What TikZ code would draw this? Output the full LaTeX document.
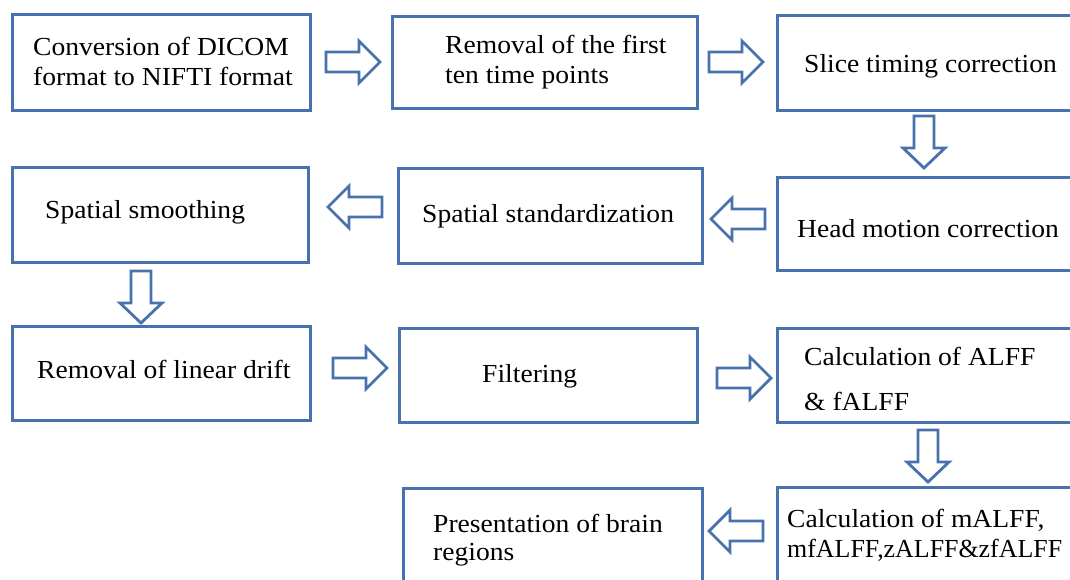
\documentclass[tikz,border=0pt]{standalone}
\usepackage{fontspec}
\setmainfont{Liberation Serif}[FakeStretch=1.06]
\usetikzlibrary{fit}
\definecolor{boxblue}{RGB}{72,114,174}
\begin{document}
\begin{tikzpicture}[x=1pt,y=-1pt,
  box/.style={draw=boxblue,line width=3pt,inner sep=0pt,outer sep=0pt,rectangle},
  lbl/.style={anchor=base west,inner sep=0pt,font=\fontsize{26}{30}\selectfont,text=black},
  arr/.style={draw=boxblue,line width=2.8pt,fill=white,line join=miter},
  rarr/.pic={\path[arr] (-27,-10) -- (6,-10) -- (6,-21) -- (27,0) -- (6,21) -- (6,10) -- (-27,10) -- cycle;},
  larr/.pic={\path[arr] (27,-10) -- (-6,-10) -- (-6,-21) -- (-27,0) -- (-6,21) -- (-6,10) -- (27,10) -- cycle;},
  darr/.pic={\path[arr] (-10,-26) -- (-10,6) -- (-21,6) -- (0,26) -- (21,6) -- (10,6) -- (10,-26) -- cycle;}
]
\useasboundingbox (0,0) rectangle (1070,579);
\clip (0,0) rectangle (1070,579);
\fill[white] (0,0) rectangle (1070,579);

% boxes
\node[box,fit={(12,14) (310,110)}] (b1) {};
\node[box,fit={(392,16) (697,108)}] (b2) {};
\node[box,fit={(777,15) (1100,110)}] (b3) {};
\node[box,fit={(12,167) (308,262)}] (b4) {};
\node[box,fit={(398,168) (702,263)}] (b5) {};
\node[box,fit={(777,177) (1100,270)}] (b6) {};
\node[box,fit={(12,326) (310,420)}] (b7) {};
\node[box,fit={(399,328) (697,422)}] (b8) {};
\node[box,fit={(777,328) (1100,422)}] (b9) {};
\node[box,fit={(403,488) (702,640)}] (b10) {};
\node[box,fit={(777,487) (1100,640)}] (b11) {};

% texts
\node[lbl] (t1a) at (33,55) {Conversion of DICOM};
\node[lbl] (t1b) at (33,85) {format to NIFTI format};
\node[lbl] (t2a) at (445,53) {Removal of the first};
\node[lbl] (t2b) at (445,83) {ten time points};
\node[lbl] (t3) at (804,72) {Slice timing correction};
\node[lbl] (t4) at (45,218) {Spatial smoothing};
\node[lbl] (t5) at (422,222) {Spatial standardization};
\node[lbl] (t6) at (797,237) {Head motion correction};
\node[lbl] (t7) at (37,378) {Removal of linear drift};
\node[lbl] (t8) at (482,382) {Filtering};
\node[lbl] (t9a) at (804,365) {Calculation of ALFF};
\node[lbl] (t9b) at (804,410) {\& fALFF};
\node[lbl] (t10a) at (433,532) {Presentation of brain};
\node[lbl] (t10b) at (433,560) {regions};
\node[lbl] (t11a) at (787,527) {Calculation of mALFF,};
\node[lbl] (t11b) at (787,557) {\scalebox{0.94}[1]{mfALFF,zALFF\&zfALFF}};

% block arrows between boxes
\pic at (353,62) {rarr};
\pic at (736,62) {rarr};
\pic at (924,142) {darr};
\pic at (738,219) {larr};
\pic at (355,207) {larr};
\pic at (141,297) {darr};
\pic at (360,368) {rarr};
\pic at (744,378) {rarr};
\pic at (928,456) {darr};
\pic at (736,531) {larr};
\end{tikzpicture}
\end{document}
